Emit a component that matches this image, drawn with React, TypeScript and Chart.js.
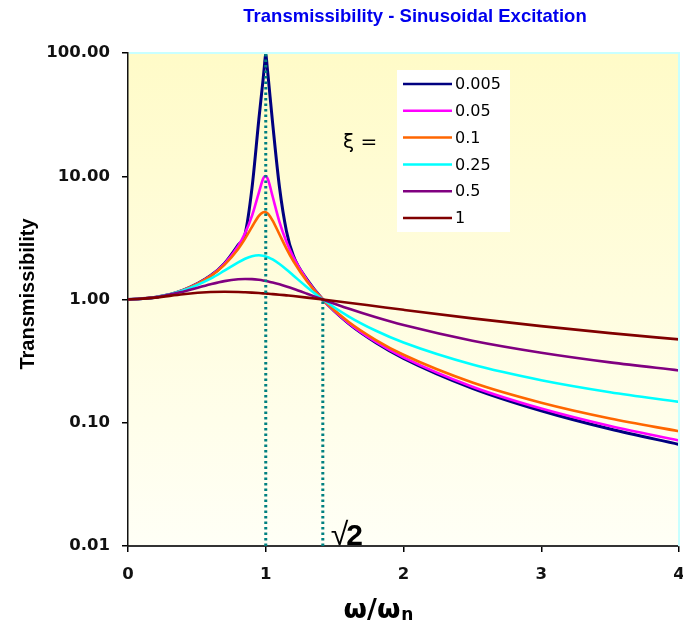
import React, { useEffect, useRef } from "react";
import { Chart, registerables } from "chart.js";

Chart.register(...registerables);

// Frequency ratio ω/ωn sampled along each curve
const frequencyRatio = [0, 0.2, 0.4, 0.6, 0.7, 0.8, 0.85, 0.9, 0.95, 0.98, 0.99, 1, 1.01, 1.02, 1.05, 1.1, 1.15, 1.2, 1.3, 1.4142, 1.6, 1.8, 2, 2.5, 3, 3.5, 4];

const dampingLabels = ["0.005", "0.05", "0.1", "0.25", "0.5", "1"];

const trans0005 = [1, 1.042, 1.19, 1.563, 1.961, 2.777, 3.4, 8.0, 29.0, 60.0, 78.0, 100, 78.0, 60.0, 27.0, 8.1, 3.6, 2.272, 1.449, 1.0, 0.641, 0.4465, 0.3334, 0.1905, 0.1251, 0.0889, 0.0667];
const trans005 = [1, 1.042, 1.19, 1.559, 1.947, 2.72, 3.458, 4.776, 7.379, 9.506, 9.951, 10.05, 9.76, 9.162, 6.853, 4.244, 2.94, 2.208, 1.436, 1.0, 0.6458, 0.4521, 0.3392, 0.1961, 0.1304, 0.0941, 0.0718];
const trans01 = [1, 1.042, 1.189, 1.547, 1.909, 2.571, 3.117, 3.882, 4.766, 5.096, 5.123, 5.099, 5.026, 4.908, 4.373, 3.367, 2.59, 2.052, 1.401, 1.0, 0.6593, 0.4685, 0.3559, 0.212, 0.1454, 0.1083, 0.0853];
const trans025 = [1, 1.041, 1.181, 1.477, 1.713, 2.001, 2.141, 2.245, 2.283, 2.265, 2.252, 2.236, 2.217, 2.194, 2.112, 1.939, 1.75, 1.567, 1.258, 1.0, 0.7305, 0.5573, 0.4472, 0.2966, 0.2215, 0.177, 0.1478];
const trans05 = [1, 1.04, 1.158, 1.329, 1.409, 1.46, 1.468, 1.463, 1.444, 1.428, 1.421, 1.414, 1.407, 1.399, 1.374, 1.328, 1.276, 1.222, 1.114, 1.0, 0.8443, 0.7166, 0.6202, 0.4631, 0.3701, 0.309, 0.2656];
const trans1 = [1, 1.036, 1.104, 1.149, 1.155, 1.151, 1.145, 1.138, 1.129, 1.122, 1.12, 1.118, 1.116, 1.114, 1.106, 1.094, 1.08, 1.066, 1.036, 1.0, 0.9417, 0.8812, 0.8246, 0.7033, 0.6083, 0.5337, 0.4743];

const seriesValues = [trans0005, trans005, trans01, trans025, trans05, trans1];
const seriesColors = ["#000080", "#ff00ff", "#ff6600", "#00ffff", "#800080", "#800000"];

// Vertical reference lines at ω/ωn = 1 and √2
const markerX = [1, 1.4142];
const markerTop = [100, 1];

const yTickValues = [0.01, 0.1, 1, 10, 100];
const xTickValues = [0, 1, 2, 3, 4];

const decorPlugin = {
  id: "decor",
  beforeDraw(chart: any) {
    const { ctx, chartArea: a } = chart;
    ctx.save();
    ctx.fillStyle = "#ffffff";
    ctx.fillRect(0, 0, chart.width, chart.height);
    const g = ctx.createLinearGradient(0, a.top, 0, a.bottom);
    g.addColorStop(0, "#fffbc8");
    g.addColorStop(1, "#fffff6");
    ctx.fillStyle = g;
    ctx.fillRect(a.left, a.top, a.right - a.left, a.bottom - a.top);
    ctx.restore();
  },
  afterDraw(chart: any) {
    const { ctx, chartArea: a } = chart;
    const xs = chart.scales.x;
    ctx.save();
    // light cyan frame at top and right of plot area
    ctx.strokeStyle = "#c8ffff";
    ctx.lineWidth = 2;
    ctx.beginPath();
    ctx.moveTo(a.left + 1, a.top);
    ctx.lineTo(a.right, a.top);
    ctx.lineTo(a.right, a.bottom);
    ctx.stroke();

    // Title
    ctx.fillStyle = "#0000ee";
    ctx.font = "bold 18.5px 'Liberation Sans', Arial, sans-serif";
    ctx.textAlign = "center";
    ctx.textBaseline = "middle";
    ctx.fillText("Transmissibility - Sinusoidal Excitation", 415, 17);

    // Y axis title
    ctx.fillStyle = "#000";
    ctx.save();
    ctx.translate(28, 294);
    ctx.rotate(-Math.PI / 2);
    ctx.font = "bold 20px 'Liberation Sans', Arial, sans-serif";
    ctx.textAlign = "center";
    ctx.textBaseline = "middle";
    ctx.fillText("Transmissibility", 0, 0);
    ctx.restore();

    // X axis title ω/ωn
    ctx.font = "bold 27px 'DejaVu Sans', sans-serif";
    const main = "ω/ω";
    const mw = ctx.measureText(main).width;
    ctx.font = "bold 17px 'DejaVu Sans', sans-serif";
    const sw = ctx.measureText("n").width;
    const startX = 378 - (mw + sw) / 2;
    ctx.textAlign = "left";
    ctx.textBaseline = "alphabetic";
    ctx.font = "bold 27px 'DejaVu Sans', sans-serif";
    ctx.fillText(main, startX, 618);
    ctx.font = "bold 17px 'DejaVu Sans', sans-serif";
    ctx.fillText("n", startX + mw + 1, 620);

    // ξ =
    ctx.font = "20px 'DejaVu Sans', sans-serif";
    ctx.fillText("ξ =", a.left + 215, 148);

    // √2 label
    const sx = xs.getPixelForValue(markerX[1]) + 8;
    ctx.font = "32px 'Liberation Sans', Arial, sans-serif";
    ctx.fillText("√", sx, a.bottom - 1);
    const rw = ctx.measureText("√").width;
    ctx.font = "bold 30px 'Liberation Sans', Arial, sans-serif";
    ctx.fillText("2", sx + rw - 2, a.bottom - 1);

    // Legend
    const lx = a.left + 269;
    const ly = a.top + 17;
    ctx.fillStyle = "#ffffff";
    ctx.fillRect(lx, ly, 113, 162);
    ctx.font = "16px 'DejaVu Sans', sans-serif";
    ctx.textBaseline = "middle";
    dampingLabels.forEach((lab, i) => {
      const y = ly + 14 + i * 26.8;
      ctx.strokeStyle = seriesColors[i];
      ctx.lineWidth = 2.5;
      ctx.beginPath();
      ctx.moveTo(lx + 6, y);
      ctx.lineTo(lx + 55, y);
      ctx.stroke();
      ctx.fillStyle = "#000";
      ctx.fillText(lab, lx + 58, y + 1);
    });
    ctx.restore();
  },
};

export default function App() {
  const ref = useRef<HTMLCanvasElement | null>(null);
  useEffect(() => {
    if (!ref.current) return;
    const datasets: any[] = seriesValues.map((vals, i) => ({
      label: dampingLabels[i],
      data: frequencyRatio.map((x, k) => ({ x, y: vals[k] })),
      borderColor: seriesColors[i],
      backgroundColor: seriesColors[i],
      borderWidth: i === 0 ? 3 : 2.6,
      pointRadius: 0,
      cubicInterpolationMode: "monotone",
      fill: false,
      order: 10 - i,
    }));
    markerX.forEach((mx, i) => {
      datasets.push({
        label: "marker" + i,
        data: [
          { x: mx, y: yTickValues[0] },
          { x: mx, y: markerTop[i] },
        ],
        borderColor: "#008080",
        borderWidth: 3,
        borderDash: [2.5, 3],
        pointRadius: 0,
        fill: false,
        order: -1,
      });
    });
    const chart = new Chart(ref.current, {
      type: "line",
      data: { datasets },
      options: {
        animation: false,
        responsive: false,
        parsing: false as any,
        layout: { padding: { top: 53, right: 4, left: 0, bottom: 0 } },
        plugins: {
          legend: { display: false },
          title: { display: false },
          tooltip: { enabled: false },
        },
        scales: {
          x: {
            type: "linear",
            min: 0,
            max: 4,
            afterBuildTicks: (s: any) => {
              s.ticks = xTickValues.map((v) => ({ value: v }));
            },
            afterFit: (s: any) => {
              s.height = 77;
              s.paddingLeft = 0;
              s.paddingRight = 0;
            },
            grid: { drawOnChartArea: false, drawTicks: true, tickLength: 6, color: "#000", lineWidth: 1.5 },
            border: { color: "#333", width: 2 },
            ticks: {
              padding: 13,
              color: "#111",
              font: { family: "'DejaVu Sans', sans-serif", size: 16.5, weight: "bold" },
              callback: (v: any) => String(v),
              maxRotation: 0,
            },
          },
          y: {
            type: "logarithmic",
            min: 0.01,
            max: 100,
            afterBuildTicks: (s: any) => {
              s.ticks = yTickValues.map((v) => ({ value: v }));
            },
            afterFit: (s: any) => {
              s.width = 128;
              s.paddingTop = 0;
              s.paddingBottom = 0;
            },
            grid: { drawOnChartArea: false, drawTicks: true, tickLength: 6, color: "#000", lineWidth: 1.5 },
            border: { color: "#111", width: 1.5 },
            ticks: {
              padding: 12,
              color: "#111",
              font: { family: "'DejaVu Sans', sans-serif", size: 16.5, weight: "bold" },
              callback: (v: any) => Number(v).toFixed(2),
            },
          },
        },
      },
      plugins: [decorPlugin],
    });
    return () => chart.destroy();
  }, []);
  return (
    <div style={{ position: "fixed", left: 0, top: 0, width: 683, height: 623, background: "#fff" }}>
      <canvas ref={ref} width={683} height={623} />
    </div>
  );
}
